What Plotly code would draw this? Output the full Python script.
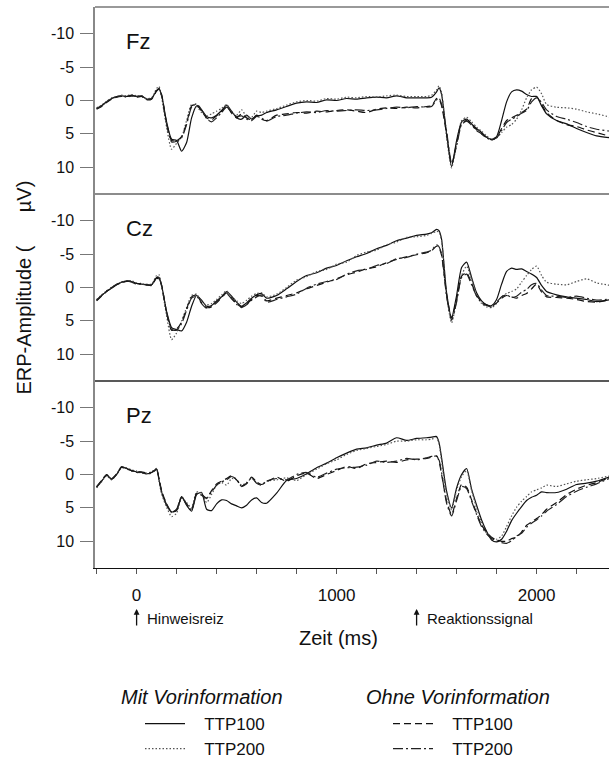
import plotly.graph_objects as go

# Time axis (ms) shared by all waveforms
t_ms = [-200, -175, -150, -125, -100, -75, -50, -25, 0, 25, 50, 75, 100,
        112, 125,
        150, 175, 200, 225, 250, 275, 300, 325, 350, 375, 400, 425, 450, 475, 500, 525, 550, 575, 600,
        625, 650,
        700, 750, 800, 850, 900, 950, 1000, 1050, 1100, 1150, 1200, 1250, 1300, 1350, 1400,
        1450, 1475, 1500, 1512, 1525,
        1550, 1575, 1600, 1625, 1650, 1675, 1700, 1725, 1750, 1775, 1800, 1825, 1850, 1875, 1900,
        1925, 1950, 1975, 2000, 2025, 2050,
        2100, 2150, 2200, 2250, 2300, 2370]

# ---- Fz ----
fz_mit_100 = [1.2, 0.8, 0.2, -0.3, -0.6, -0.7, -0.6, -0.8, -0.6, -0.7, -0.2, -0.3, -1.5,
              -1.8, -0.8,
              3.2, 5.8, 6.0, 7.6, 6.3, 2.6, 0.8, 1.4, 2.4, 2.6, 2.2, 1.5, 0.7, 1.6, 2.6, 2.8, 2.2, 2.8, 2.3,
              2.2, 1.8,
              1.4, 0.9, 0.4, 0.2, 0.3, -0.1, 0.0, -0.3, -0.2, -0.4, -0.5, -0.4, -0.7, -0.4, -0.4,
              -0.4, -0.5, -1.3, -1.9, -0.9,
              5.0, 9.9, 6.0, 3.2, 2.8, 3.5, 4.2, 4.8, 5.5, 5.8, 5.4, 3.0, 0.2, -1.3, -1.6,
              -1.4, -0.9, -0.6, -0.6, 0.8, 2.0,
              3.0, 3.5, 4.2, 4.8, 5.3, 5.6]
fz_mit_200 = [1.1, 0.7, 0.1, -0.4, -0.6, -0.8, -0.7, -0.9, -0.7, -0.6, -0.3, -0.4, -1.8,
              -2.1, -0.5,
              4.0, 7.3, 6.4, 5.5, 3.0, 0.6, 0.9, 1.8, 2.3, 2.0, 1.6, 1.2, 0.6, 1.8, 2.2, 1.4, 2.4, 2.5, 1.6,
              1.8, 1.6,
              1.2, 0.7, 0.2, 0.0, 0.1, -0.3, -0.2, -0.5, -0.4, -0.6, -0.5, -0.7, -0.8, -0.6, -0.6,
              -0.6, -0.8, -1.6, -2.2, -1.2,
              5.5, 10.1, 6.5, 3.0, 2.5, 3.2, 4.0, 4.6, 5.3, 5.8, 5.6, 4.8, 4.0, 3.6, 2.8,
              1.4, -0.4, -1.6, -2.0, -1.0, 0.6,
              1.0, 1.1, 1.3, 1.7, 2.0, 2.5]
fz_ohne_100 = [1.3, 0.9, 0.3, -0.2, -0.5, -0.6, -0.6, -0.7, -0.5, -0.6, -0.1, -0.2, -1.4,
               -1.7, -0.9,
               3.4, 6.0, 6.0, 5.4, 3.4, 0.8, 0.6, 1.6, 2.6, 2.9, 2.3, 1.6, 0.9, 1.9, 2.6, 2.0, 2.6, 2.9, 2.2,
               2.8, 3.0,
               2.2, 2.0, 1.8, 1.9, 1.6, 1.7, 1.5, 1.4, 1.6, 1.8, 1.3, 1.1, 1.2, 1.0, 1.1,
               0.9, 0.8, -0.3, -0.2, 0.8,
               5.0, 9.6, 6.4, 3.4, 3.0, 3.6, 4.4, 5.0, 5.5, 5.9, 5.5, 4.2, 3.0, 2.6, 2.2,
               1.8, 1.3, -0.3, -0.6, 0.6, 1.8,
               3.0, 3.6, 3.9, 4.4, 4.8, 5.4]
fz_ohne_200 = [1.2, 0.8, 0.2, -0.3, -0.5, -0.7, -0.5, -0.7, -0.6, -0.7, -0.2, -0.3, -1.6,
               -1.8, -0.7,
               3.5, 6.2, 6.1, 5.6, 3.6, 1.0, 0.5, 1.4, 2.7, 3.2, 2.6, 1.8, 1.0, 1.7, 2.4, 2.3, 2.8, 3.0, 2.4,
               2.6, 3.1,
               2.4, 2.2, 1.9, 1.7, 1.8, 1.5, 1.6, 1.5, 1.4, 1.5, 1.4, 1.2, 1.0, 1.1, 0.9,
               1.0, 0.9, -0.1, -0.4, 0.6,
               4.6, 9.4, 6.8, 3.6, 3.1, 3.7, 4.5, 5.0, 5.6, 5.9, 5.6, 4.5, 3.3, 2.8, 2.4,
               1.9, 1.5, 0.2, -0.4, 0.3, 1.4,
               2.4, 2.8, 3.3, 3.9, 4.3, 4.6]

# ---- Cz ----
cz_mit_100 = [1.9, 1.2, 0.6, 0.1, -0.4, -0.8, -1.0, -0.9, -0.6, -0.5, -0.4, -0.4, -1.5,
              -1.4, -0.3,
              3.6, 6.0, 6.3, 6.5, 5.2, 2.8, 1.2, 1.9, 2.8, 2.7, 2.0, 1.4, 0.6, 1.3, 2.2, 2.8, 2.3, 1.6, 1.1,
              0.9, 1.6,
              1.2, 0.2, -0.9, -1.8, -2.2, -2.9, -3.3, -4.0, -4.6, -5.1, -5.8, -6.3, -7.0, -7.4, -7.8,
              -8.0, -8.2, -8.7, -8.5, -7.2,
              0.8, 4.5, 1.2, -3.0, -3.8, -1.5, 0.8, 2.0, 2.6, 2.7, 1.8, -0.5, -2.4, -2.9, -2.7,
              -2.8, -2.4, -2.0, -1.5, -0.3, 0.6,
              1.1, 1.4, 1.6, 1.8, 2.1, 1.8]
cz_mit_200 = [1.8, 1.1, 0.5, 0.0, -0.5, -0.8, -1.0, -1.0, -0.7, -0.5, -0.5, -0.5, -1.8,
              -1.9, -0.2,
              4.2, 7.8, 6.8, 5.0, 3.0, 1.2, 1.0, 2.2, 2.6, 2.4, 1.8, 1.1, 0.5, 1.4, 2.0, 2.4, 1.9, 1.3, 0.9,
              0.8, 1.4,
              1.0, 0.0, -1.1, -1.6, -2.4, -2.7, -3.5, -3.8, -4.8, -5.3, -5.6, -6.4, -6.8, -7.5, -7.6,
              -7.8, -8.1, -8.4, -8.3, -7.0,
              1.2, 5.3, 2.0, -1.8, -3.2, -1.2, 1.0, 2.4, 2.9, 3.0, 2.4, 1.4, 0.9, 0.6, 0.2,
              -0.8, -1.8, -2.7, -3.2, -1.8, -0.8,
              -0.5, -0.4, -0.9, -1.3, -0.7, -0.3]
cz_ohne_100 = [2.0, 1.3, 0.6, 0.1, -0.4, -0.7, -0.9, -0.9, -0.6, -0.6, -0.4, -0.3, -1.4,
               -1.2, -0.4,
               3.8, 6.4, 6.2, 5.2, 3.2, 1.4, 1.1, 2.3, 3.0, 2.9, 2.3, 1.5, 0.8, 1.6, 2.4, 2.9, 2.5, 1.8, 1.2,
               1.3, 2.0,
               1.6, 1.2, 0.8, 0.2, -0.3, -0.8, -1.3, -1.9, -2.3, -2.8, -3.1, -3.7, -4.2, -4.6, -4.9,
               -5.2, -5.5, -6.2, -6.0, -4.8,
               1.0, 4.6, 1.8, -1.7, -2.2, -0.6, 1.2, 2.1, 2.6, 2.8, 2.3, 1.6, 1.2, 1.4, 1.6,
               1.2, 0.9, 0.2, -0.5, 0.7, 1.4,
               1.5, 1.6, 1.8, 2.1, 2.2, 1.8]
cz_ohne_200 = [1.9, 1.2, 0.5, 0.0, -0.5, -0.8, -1.0, -0.8, -0.5, -0.5, -0.4, -0.4, -1.6,
               -1.5, -0.3,
               3.7, 6.3, 6.4, 5.4, 3.4, 1.6, 1.3, 2.4, 3.1, 2.8, 2.1, 1.4, 0.9, 1.7, 2.5, 3.0, 2.6, 1.9, 1.4,
               1.1, 2.2,
               1.8, 1.4, 1.0, 0.1, -0.5, -0.9, -1.2, -2.0, -2.5, -2.7, -3.3, -3.6, -4.3, -4.5, -5.0,
               -5.3, -5.6, -6.4, -6.1, -5.0,
               1.3, 4.9, 2.2, -1.5, -2.0, -0.4, 1.3, 2.3, 2.7, 2.9, 2.2, 1.4, 1.1, 1.5, 1.3,
               0.7, 0.3, -0.4, -0.6, 0.4, 1.2,
               1.3, 1.5, 1.3, 1.6, 1.9, 1.7]

# ---- Pz ----
pz_mit_100 = [1.9, 1.0, 0.1, 0.7, 0.0, -1.1, -0.9, -0.6, -0.4, -0.3, -0.1, -0.3, -0.8,
              0.8, 2.6,
              4.6, 5.6, 5.4, 3.3, 4.6, 5.5, 3.0, 2.7, 5.2, 5.4, 4.4, 3.8, 3.9, 4.4, 4.7, 5.0, 4.6, 3.8, 3.5,
              4.2, 4.3,
              2.8, 0.9, 0.6, -0.1, -1.0, -1.7, -2.5, -3.2, -3.8, -4.0, -4.4, -4.7, -5.5, -5.1, -5.4,
              -5.5, -5.6, -5.7, -4.8, -2.5,
              2.5, 5.0, 2.0, 0.0, -0.9, 2.2, 4.6, 6.8, 8.5, 9.8, 10.1, 9.7, 8.5, 6.9, 5.8,
              4.8, 3.9, 3.4, 3.1, 2.6, 2.7,
              2.7, 2.2, 1.5, 1.3, 1.0, 0.3]
pz_mit_200 = [2.0, 1.1, 0.2, 0.8, 0.0, -1.0, -1.0, -0.7, -0.5, -0.2, -0.2, -0.4, -0.9,
              1.0, 2.9,
              4.9, 6.3, 5.8, 3.6, 4.2, 5.0, 2.6, 2.8, 4.2, 3.0, 1.6, 1.2, 1.6, 0.6, 0.8, 1.6, 1.2, 0.6, 1.2,
              1.5, 1.0,
              0.8, 0.5, 0.9, 0.0, -0.8, -1.6, -2.2, -3.0, -3.6, -3.9, -4.2, -4.5, -5.0, -5.0, -5.2,
              -5.2, -5.3, -5.5, -4.6, -2.0,
              2.9, 5.3, 2.3, 0.3, -0.6, 2.4, 5.0, 7.2, 8.8, 9.6, 9.7, 9.2, 7.8, 6.2, 4.9,
              4.0, 3.3, 2.6, 2.3, 2.0, 1.6,
              1.8, 1.4, 1.0, 0.8, 0.6, 0.2]
pz_ohne_100 = [1.8, 0.9, 0.0, 0.6, -0.1, -1.1, -0.8, -0.6, -0.4, -0.4, -0.2, -0.3, -0.7,
               0.6, 2.4,
               4.4, 5.6, 5.3, 3.4, 4.4, 5.2, 2.8, 3.0, 3.5, 2.4, 1.4, 1.0, 0.6, 0.2, 0.8, 1.7, 1.3, 0.4, 1.1,
               1.5, 1.1,
               0.4, 1.0, 0.2, -0.2, 0.6, 0.0, -0.6, -1.2, -0.9, -1.6, -1.8, -2.0, -1.8, -2.2, -2.3,
               -2.4, -2.6, -2.8, -2.0, 0.0,
               4.0, 6.0, 3.6, 1.5, 1.9, 3.8, 5.8, 7.6, 8.6, 9.4, 9.8, 10.0, 10.0, 9.6, 9.4,
               8.6, 7.6, 7.1, 6.6, 6.0, 5.2,
               4.2, 3.0, 2.2, 1.6, 1.2, 0.4]
pz_ohne_200 = [1.9, 1.0, 0.1, 0.7, 0.0, -1.2, -0.9, -0.5, -0.3, -0.3, -0.1, -0.2, -0.8,
               0.7, 2.5,
               4.5, 5.7, 5.2, 3.3, 4.5, 5.3, 2.9, 3.1, 3.6, 2.6, 1.6, 1.1, 0.8, 0.3, 0.7, 1.8, 1.4, 0.5, 1.3,
               1.6, 1.0,
               0.6, 0.8, 0.0, -0.3, 0.4, -0.2, -0.8, -1.0, -1.1, -1.4, -2.0, -1.8, -2.0, -2.4, -2.2,
               -2.5, -2.7, -2.7, -2.2, -0.3,
               4.3, 6.2, 3.9, 1.8, 2.1, 4.0, 6.0, 7.8, 8.9, 9.6, 9.9, 10.2, 10.3, 9.9, 9.2,
               8.8, 7.9, 7.3, 6.8, 6.2, 5.5,
               4.5, 3.3, 2.5, 1.9, 1.4, 0.5]

electrodes = ["Fz", "Cz", "Pz"]
panel_data = {
    "Fz": [fz_mit_100, fz_mit_200, fz_ohne_100, fz_ohne_200],
    "Cz": [cz_mit_100, cz_mit_200, cz_ohne_100, cz_ohne_200],
    "Pz": [pz_mit_100, pz_mit_200, pz_ohne_100, pz_ohne_200],
}
condition_names = ["TTP100", "TTP200", "TTP100", "TTP200"]
condition_legend = ["legend", "legend", "legend2", "legend2"]
condition_dash = ["solid", "1.5px,2px", "7px,4px", "10px,3px,2px,3px"]
condition_color = ["#111111", "#555555", "#111111", "#222222"]

y_ticks = [-10, -5, 0, 5, 10]
x_tick_vals = list(range(-200, 2401, 200))
x_tick_text = ["0" if v == 0 else ("1000" if v == 1000 else ("2000" if v == 2000 else "")) for v in x_tick_vals]

FONT = "Liberation Sans, Arial, sans-serif"
W, H = 609, 764
ML, MT, MB = 95, 7, 196
plot_h = H - MT - MB
NB = "\u00a0"


def px_x(p):
    return (p - ML) / (W - ML)


def px_y(p):
    return (H - MB - p) / plot_h


fig = go.Figure()
for i, el in enumerate(electrodes):
    ax = "" if i == 0 else str(i + 1)
    for k, vals in enumerate(panel_data[el]):
        fig.add_trace(go.Scatter(
            x=t_ms, y=vals, mode="lines",
            xaxis="x" + ax, yaxis="y" + ax,
            name=NB * 3 + condition_names[k],
            legend=condition_legend[k],
            showlegend=(i == 0),
            line=dict(color=condition_color[k], width=1.2, dash=condition_dash[k],
                      shape="spline", smoothing=0.6),
            hoverinfo="skip",
        ))

domains = [[2 / 3, 1.0], [1 / 3, 2 / 3], [0.0, 1 / 3]]
layout = dict(
    width=W, height=H,
    margin=dict(l=ML, r=0, t=MT, b=MB, autoexpand=False),
    plot_bgcolor="white", paper_bgcolor="white",
    font=dict(family=FONT, size=16, color="#111"),
)
x_range = [-208, 2362]
for i in range(3):
    ax = "" if i == 0 else str(i + 1)
    last = (i == 2)
    layout["xaxis" + ax] = dict(
        domain=[0, 1], range=x_range, anchor="y" + ax,
        showgrid=False, zeroline=False,
        showline=last, linecolor="#111", linewidth=1.3,
        tickmode="array", tickvals=x_tick_vals, ticktext=x_tick_text,
        ticks="outside" if last else "", ticklen=5, tickcolor="#555", tickwidth=1.2,
        showticklabels=last, tickfont=dict(size=17, family=FONT),
        ticklabelstandoff=6,
    )
    layout["yaxis" + ax] = dict(
        domain=domains[i], range=[14, -14], anchor="x" + ax,
        showgrid=False, zeroline=False,
        showline=True, linecolor="#888", linewidth=1.5,
        tickmode="array", tickvals=y_ticks, ticktext=[str(v) for v in y_ticks],
        ticks="outside", ticklen=13, tickcolor="#777", tickwidth=1.2,
        tickfont=dict(size=16, family=FONT), ticklabelstandoff=3,
    )
fig.update_layout(**layout)

# horizontal frame lines: top border and panel separators
for yv, col in [(1.0, "#777"), (2 / 3, "#666"), (1 / 3, "#222")]:
    fig.add_shape(type="line", xref="paper", yref="paper", x0=0, x1=1, y0=yv, y1=yv,
                  line=dict(color=col, width=1.3))

annotations = []
# electrode labels
for i, el in enumerate(electrodes):
    ax = "" if i == 0 else str(i + 1)
    annotations.append(dict(x=-62, y=-8.8, xref="x" + ax, yref="y" + ax, text=el,
                            showarrow=False, xanchor="left", yanchor="middle",
                            font=dict(size=22, family=FONT, color="#111")))
# y-axis title
annotations.append(dict(x=px_x(23), y=0.5, xref="paper", yref="paper",
                        text="ERP-Amplitude (" + NB * 6 + "µV)", textangle=-90,
                        showarrow=False, xanchor="center", yanchor="middle",
                        font=dict(size=20, family=FONT, color="#111")))
# x-axis title
annotations.append(dict(x=px_x(338), y=px_y(638), xref="paper", yref="paper",
                        text="Zeit (ms)", showarrow=False, xanchor="center", yanchor="middle",
                        font=dict(size=20, family=FONT, color="#111")))
# event markers below the time axis
events = [(0, "Hinweisreiz"), (1400, "Reaktionssignal")]
for t_ev, label in events:
    annotations.append(dict(x=t_ev, y=px_y(609), xref="x3", yref="paper", text="",
                            showarrow=True, arrowhead=2, arrowsize=0.9, arrowwidth=1.3,
                            arrowcolor="#111", ax=0, ay=18))
    annotations.append(dict(x=t_ev + 40, y=px_y(618), xref="x3", yref="paper", text=label,
                            showarrow=False, xanchor="left", yanchor="middle",
                            font=dict(size=15, family=FONT, color="#111")))
# legend group headings
annotations.append(dict(x=px_x(119), y=px_y(697), xref="paper", yref="paper",
                        text="Mit Vorinformation", showarrow=False, xanchor="left", yanchor="middle",
                        font=dict(size=20, family=FONT, color="#111", style="italic")))
annotations.append(dict(x=px_x(364), y=px_y(697), xref="paper", yref="paper",
                        text="Ohne Vorinformation", showarrow=False, xanchor="left", yanchor="middle",
                        font=dict(size=20, family=FONT, color="#111", style="italic")))
fig.update_layout(annotations=annotations)

legend_common = dict(xanchor="left", yanchor="top", bgcolor="rgba(0,0,0,0)",
                     font=dict(size=17, family=FONT, color="#111"), borderwidth=0,
                     orientation="v", itemwidth=40, tracegroupgap=0)
fig.update_layout(
    legend=dict(x=px_x(140), y=px_y(706), **legend_common),
    legend2=dict(x=px_x(388), y=px_y(706), **legend_common),
)

fig.write_html("out.html")
